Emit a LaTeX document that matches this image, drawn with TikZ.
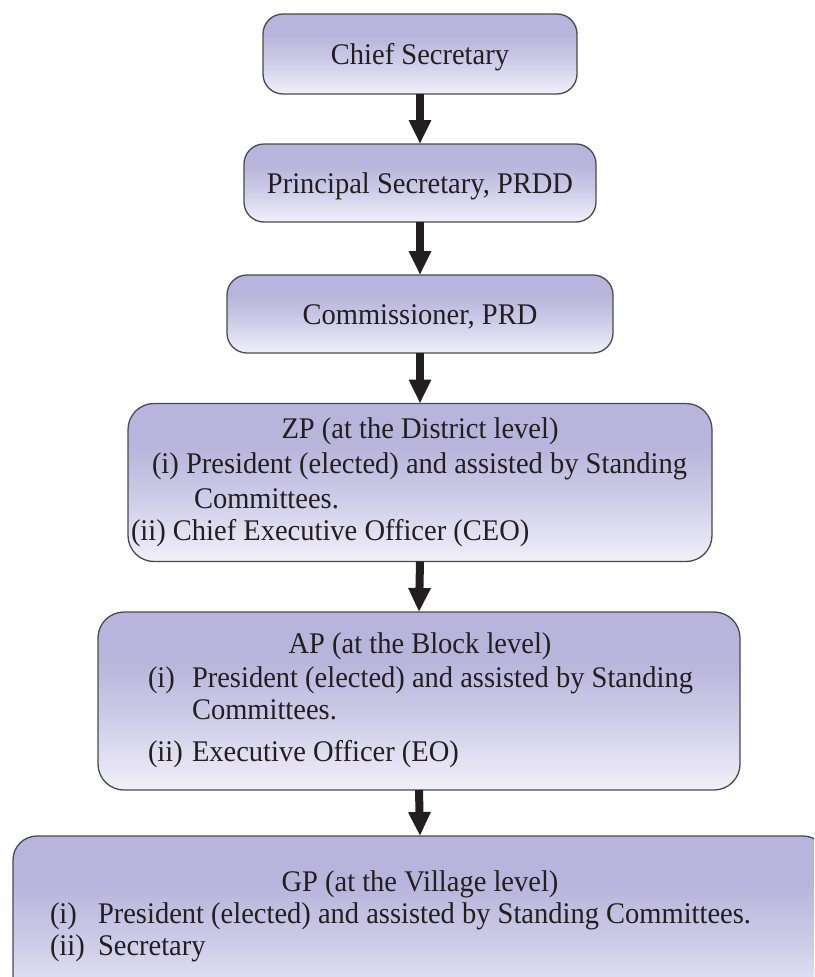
\documentclass[tikz,border=0pt]{standalone}
\usepackage{fontspec}
\setmainfont{Liberation Serif}[FakeStretch=0.95]
\usetikzlibrary{arrows.meta}
\definecolor{boxtop}{HTML}{B8B4DB}
\definecolor{boxmid}{HTML}{CFCCE8}
\definecolor{boxbot}{HTML}{F1F0F9}
\definecolor{edgecol}{HTML}{4A4A4C}
\definecolor{arrcol}{HTML}{231F20}
\definecolor{txtcol}{HTML}{231F20}
\pgfdeclareverticalshading{boxshade}{100bp}{color(0bp)=(boxbot); color(25bp)=(boxbot); color(45bp)=(boxmid); color(62bp)=(boxtop); color(100bp)=(boxtop)}
\begin{document}
\begin{tikzpicture}[x=1pt,y=-1pt,
  box/.style={draw=edgecol, line width=1.3pt, shade, shading=boxshade, inner sep=0pt, outer sep=0pt},
  txt/.style={inner sep=0pt, outer sep=0pt, text=txtcol, font=\fontsize{30}{34}\selectfont},
  arrowline/.style={draw=arrcol, line width=8pt, -{Triangle[width=21pt,length=24pt]}, arrcol}]
\useasboundingbox (0,0) rectangle (814,977);
\clip (0,0) rectangle (814,977);
% boxes
\node[box, rounded corners=20pt, minimum width=314pt, minimum height=80pt] (b1) at (420,54) {};
\node[box, rounded corners=20pt, minimum width=352pt, minimum height=78pt] (b2) at (420,183) {};
\node[box, rounded corners=20pt, minimum width=386pt, minimum height=78pt] (b3) at (420,314) {};
\node[box, rounded corners=26pt, minimum width=584pt, minimum height=158pt] (b4) at (420,482.5) {};
\node[box, rounded corners=26pt, minimum width=642pt, minimum height=178pt] (b5) at (419,701) {};
\node[box, rounded corners=24pt, minimum width=814pt, minimum height=180pt] (b6) at (420,926) {};
% arrows
\draw[arrowline] (b1.south) -- (b2.north);
\draw[arrowline] (b2.south) -- (b3.north);
\draw[arrowline] (b3.south) -- (b4.north);
\draw[arrowline] (b4.south) -- (b5.north);
\draw[arrowline] (b5.south) -- (b6.north);
% texts
\node[txt, anchor=base] (t1) at (420,64) {Chief Secretary};
\node[txt, anchor=base] (t2) at (420,193) {Principal Secretary, PRDD};
\node[txt, anchor=base] (t3) at (420,324) {Commissioner, PRD};
\node[txt, anchor=base] (t4a) at (420,438) {ZP (at the District level)};
\node[txt, anchor=base west] (t4b) at (152,473) {(i) President (elected) and assisted by Standing};
\node[txt, anchor=base west] (t4c) at (194,508) {Committees.};
\node[txt, anchor=base west] (t4d) at (131,540) {(ii) Chief Executive Officer (CEO)};
\node[txt, anchor=base] (t5a) at (420,653) {AP (at the Block level)};
\node[txt, anchor=base west] (t5b) at (148,687) {(i)};
\node[txt, anchor=base west] (t5c) at (192,687) {President (elected) and assisted by Standing};
\node[txt, anchor=base west] (t5d) at (192,719) {Committees.};
\node[txt, anchor=base west] (t5e) at (148,761) {(ii)};
\node[txt, anchor=base west] (t5f) at (192,761) {Executive Officer (EO)};
\node[txt, anchor=base] (t6a) at (420,891) {GP (at the Village level)};
\node[txt, anchor=base west] (t6b) at (50,923) {(i)};
\node[txt, anchor=base west] (t6c) at (98,923) {President (elected) and assisted by Standing Committees.};
\node[txt, anchor=base west] (t6d) at (50,955) {(ii)};
\node[txt, anchor=base west] (t6e) at (98,955) {Secretary};
\end{tikzpicture}
\end{document}
